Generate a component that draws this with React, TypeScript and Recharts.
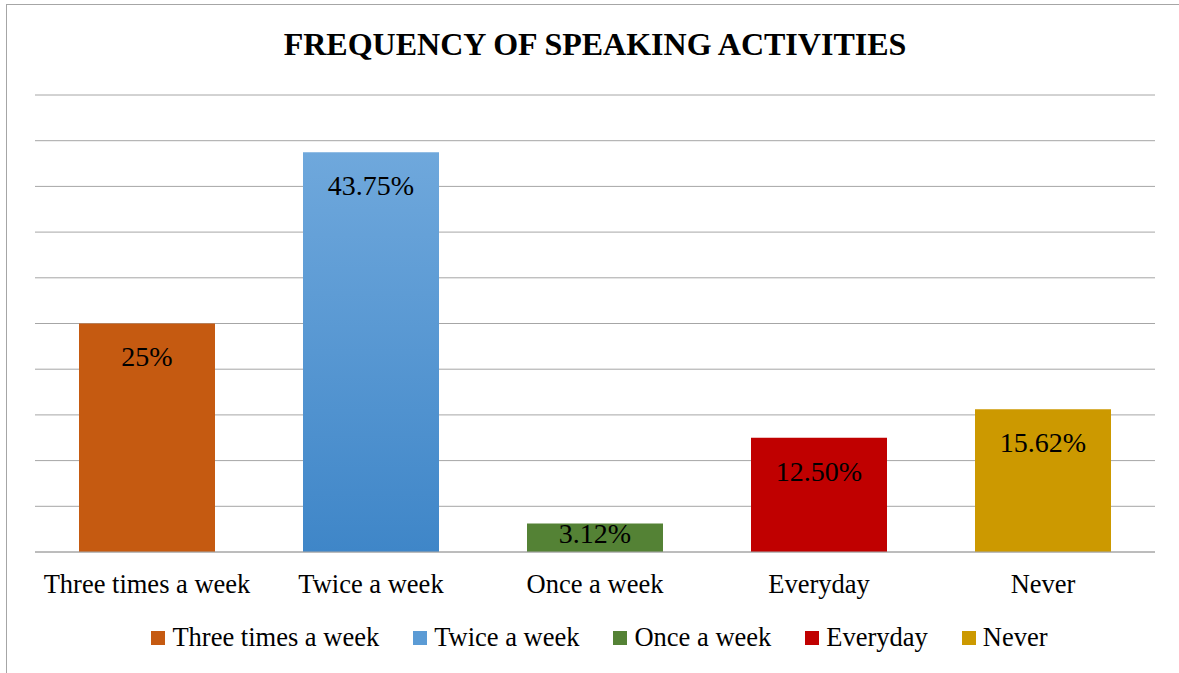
import React from 'react';
import { BarChart, Bar, XAxis, YAxis, Cell, LabelList, CartesianGrid, ReferenceLine } from 'recharts';

const categories = ['Three times a week', 'Twice a week', 'Once a week', 'Everyday', 'Never'];
const values = [25, 43.75, 3.12, 12.5, 15.62];
const valueLabels = ['25%', '43.75%', '3.12%', '12.50%', '15.62%'];
const colors = ['#C55A11', 'url(#blueGrad)', '#548235', '#C00000', '#CC9900'];
const legendColors = ['#C55A11', '#5B9BD5', '#548235', '#C00000', '#CC9900'];
const yTicks = [0, 5, 10, 15, 20, 25, 30, 35, 40, 45, 50];

const data = categories.map((name, i) => ({ name, value: values[i], label: valueLabels[i] }));

const FONT = '"Liberation Serif", "Times New Roman", serif';

// label sits near the top of the bar, centred when the bar is short
const BarLabel = (props: any) => {
  const { x, y, width, height, index } = props;
  const cy = height < 60 ? y + height / 2 - 5 : y + 33;
  return (
    <text x={x + width / 2} y={cy} dy="0.35em" textAnchor="middle" fontSize={28} fontFamily={FONT} fill="#000">
      {valueLabels[index]}
    </text>
  );
};

const LegendBox = () => (
  <div style={{ display: 'flex', justifyContent: 'center', gap: 34, fontFamily: FONT, fontSize: 26.5, color: '#000' }}>
    {categories.map((c, i) => (
      <div key={c} style={{ display: 'flex', alignItems: 'center' }}>
        <span style={{ width: 14, height: 14, background: legendColors[i], display: 'inline-block', marginRight: 7 }} />
        <span>{c}</span>
      </div>
    ))}
  </div>
);

export default function App() {
  return (
    <div style={{ position: 'fixed', left: 0, top: 0, width: 1179, height: 673, background: '#fff', overflow: 'hidden' }}>
      <div style={{ position: 'absolute', left: 6, top: 4, width: 1300, height: 800, borderTop: '1px solid #a6a6a6', borderLeft: '1px solid #a6a6a6' }} />
      <div style={{ position: 'absolute', left: 0, width: 1190, top: 24, textAlign: 'center', fontFamily: FONT, fontWeight: 'bold', fontSize: 32, color: '#000', lineHeight: '40px' }}>
        FREQUENCY OF SPEAKING ACTIVITIES
      </div>
      <div style={{ position: 'absolute', left: 0, top: 0 }}>
        <BarChart width={1179} height={673} data={data} margin={{ top: 95, right: 24, bottom: 91, left: 35 }}>
          <defs>
            <linearGradient id="blueGrad" x1="0" y1="0" x2="0" y2="1">
              <stop offset="0%" stopColor="#6FA8DC" />
              <stop offset="100%" stopColor="#3F86C8" />
            </linearGradient>
          </defs>
          <CartesianGrid vertical={false} stroke="#a6a6a6" strokeWidth={1} />
          <YAxis
            domain={[0, 50]}
            ticks={yTicks}
            width={0}
            tick={{ fill: 'transparent', fontSize: 1 }}
            axisLine={false}
            tickLine={false}
          />
          <XAxis
            dataKey="name"
            axisLine={false}
            tickLine={false}
            interval={0}
            height={30}
            tick={{ fontSize: 26.5, fontFamily: FONT, fill: '#000', dy: 14 }}
          />
          <ReferenceLine y={0} stroke="#a6a6a6" strokeWidth={1} />
          <Bar dataKey="value" barSize={136} isAnimationActive={false}>
            {data.map((d, i) => (
              <Cell key={d.name} fill={colors[i]} />
            ))}
            <LabelList dataKey="label" content={<BarLabel />} />
          </Bar>
        </BarChart>
      </div>
      <div style={{ position: 'absolute', left: 0, width: 1199, top: 622 }}>
        <LegendBox />
      </div>
    </div>
  );
}
